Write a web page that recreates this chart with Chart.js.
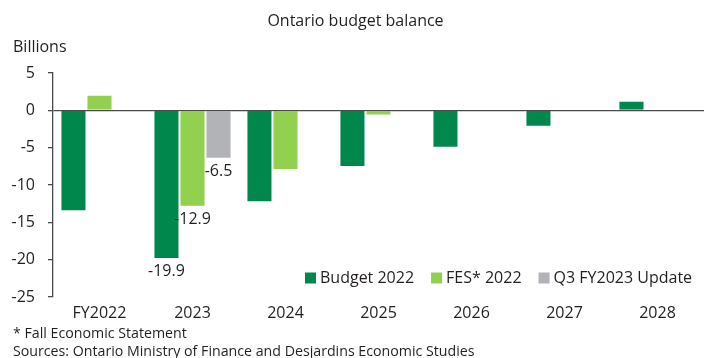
<!DOCTYPE html>
<html>
<head>
<meta charset="utf-8">
<script src="https://cdn.jsdelivr.net/npm/chart.js@4/dist/chart.umd.min.js"></script>
<style>
  html, body { margin: 0; padding: 0; background: #fff; }
  #wrap { width: 711px; height: 358px; }
</style>
</head>
<body>
<div id="wrap"><canvas id="budgetChart" width="711" height="358"></canvas></div>
<script>
// DATA
const categories = ['FY2022', '2023', '2024', '2025', '2026', '2027', '2028'];
const budget2022 = [-13.5, -19.9, -12.3, -7.6, -5.0, -2.2, 1.3];
const fes2022 = [2.1, -12.9, -8.0, -0.7, null, null, null];
const q3Update = [null, -6.5, null, null, null, null, null];
const seriesNames = ['Budget 2022', 'FES* 2022', 'Q3 FY2023 Update'];
const yTicks = [5, 0, -5, -10, -15, -20, -25];
const labelledCategory = '2023'; // only these bars get value labels

const COLORS = ['#00884C', '#92D050', '#B1B3B6'];
const FONT = '"Open Sans", "Noto Sans", sans-serif';
const TEXT = '#231F20';
const AXIS = '#4A4A4A';

// --- extra text: title, unit, legend, notes, value labels ---
const extras = {
    id: 'extras',
    afterDatasetsDraw(chart) {
        const ctx = chart.ctx;
        ctx.save();
        ctx.fillStyle = TEXT;
        ctx.font = '16px ' + FONT;
        ctx.textBaseline = 'middle';

        // value labels under the 2023 bars
        const idx = categories.indexOf(labelledCategory);
        ctx.textAlign = 'center';
        chart.data.datasets.forEach((ds, i) => {
            const v = ds.data[idx];
            if (v === null) return;
            const bar = chart.getDatasetMeta(i).data[idx];
            ctx.fillText(v.toFixed(1), bar.x, bar.y + 13);
        });

        // title
        ctx.fillText('Ontario budget balance', chart.width / 2, 21);

        // unit
        ctx.textAlign = 'left';
        ctx.fillText('Billions', 13, 47);

        // legend (inside plot, bottom right)
        let x = 305;
        const ly = 278;
        chart.data.datasets.forEach((ds, i) => {
            ctx.fillStyle = COLORS[i];
            ctx.fillRect(x, ly - 5.5, 11, 11);
            ctx.fillStyle = TEXT;
            ctx.fillText(ds.label, x + 15, ly);
            x += 15 + ctx.measureText(ds.label).width + 17;
        });

        // notes
        ctx.font = '14.2px ' + FONT;
        ctx.fillText('* Fall Economic Statement', 13, 334);
        ctx.fillText('Sources: Ontario Ministry of Finance and Desjardins Economic Studies', 13, 352);
        ctx.restore();
    }
};

const ctx = document.getElementById('budgetChart').getContext('2d');
new Chart(ctx, {
    type: 'bar',
    data: {
        labels: categories,
        datasets: [budget2022, fes2022, q3Update].map((d, i) => ({
            label: seriesNames[i],
            data: d,
            backgroundColor: COLORS[i],
            borderColor: 'rgba(255,255,255,0.6)',
            borderWidth: 1,
            categoryPercentage: 0.84,
            barPercentage: 1.0
        }))
    },
    options: {
        responsive: false,
        animation: false,
        devicePixelRatio: 1,
        layout: { padding: { top: 73, left: 10, right: 7, bottom: 36 } },
        plugins: {
            legend: { display: false },
            tooltip: { enabled: false }
        },
        scales: {
            x: {
                grid: { display: false, drawTicks: false },
                border: { display: false },
                ticks: { color: TEXT, font: { family: FONT, size: 16 }, padding: 7 },
                afterFit: s => { s.height = 25; }
            },
            y: {
                min: -25,
                max: 5,
                afterBuildTicks: s => { s.ticks = yTicks.map(v => ({ value: v })); },
                grid: {
                    color: c => c.tick && c.tick.value === 0 ? AXIS : 'rgba(0,0,0,0)',
                    tickColor: AXIS,
                    tickLength: 5,
                    lineWidth: 1.3
                },
                border: { display: true, color: AXIS, width: 1.3 },
                ticks: { color: TEXT, font: { family: FONT, size: 16 }, padding: 13 },
                afterFit: s => { s.width = 43; }
            }
        }
    },
    plugins: [extras]
});
</script>
</body>
</html>
